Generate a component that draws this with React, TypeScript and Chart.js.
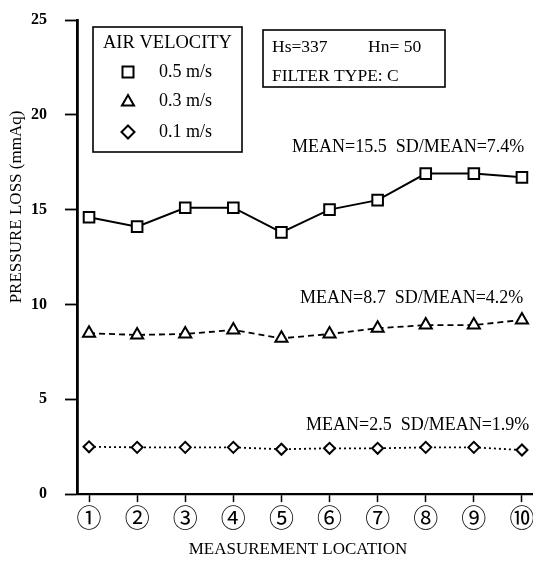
import React, { useEffect, useRef } from 'react';
import { Chart, registerables } from 'chart.js';
Chart.register(...registerables);

const locations = [1, 2, 3, 4, 5, 6, 7, 8, 9, 10];
const locationLabels = ['①', '②', '③', '④', '⑤', '⑥', '⑦', '⑧', '⑨', '⑩'];
const v05 = [14.6, 14.1, 15.1, 15.1, 13.8, 15.0, 15.5, 16.9, 16.9, 16.7];
const v03 = [8.48, 8.39, 8.44, 8.65, 8.21, 8.44, 8.74, 8.91, 8.91, 9.18];
const v01 = [2.49, 2.46, 2.46, 2.46, 2.36, 2.41, 2.41, 2.46, 2.46, 2.32];
const seriesNames = ['0.5 m/s', '0.3 m/s', '0.1 m/s'];
const meanLabels = ['MEAN=15.5  SD/MEAN=7.4%', 'MEAN=8.7  SD/MEAN=4.2%', 'MEAN=2.5  SD/MEAN=1.9%'];
const legendTitle = 'AIR VELOCITY';
const infoLine1a = 'Hs=337';
const infoLine1b = 'Hn= 50';
const infoLine2 = 'FILTER TYPE: C';
const yTitle = 'PRESSURE LOSS (mmAq)';
const xTitle = 'MEASUREMENT LOCATION';

const SERIF = '"Liberation Serif", "Times New Roman", serif';

function drawMarker(ctx: CanvasRenderingContext2D, kind: string, x: number, y: number) {
  ctx.beginPath();
  if (kind === 'rect') {
    ctx.rect(x - 5.5, y - 5.5, 11, 11);
  } else if (kind === 'triangle') {
    ctx.moveTo(x, y - 6);
    ctx.lineTo(x + 6, y + 4.5);
    ctx.lineTo(x - 6, y + 4.5);
    ctx.closePath();
  } else {
    ctx.moveTo(x, y - 6.5);
    ctx.lineTo(x + 6.5, y);
    ctx.lineTo(x, y + 6.5);
    ctx.lineTo(x - 6.5, y);
    ctx.closePath();
  }
  ctx.fillStyle = '#fff';
  ctx.fill();
  ctx.lineWidth = 2;
  ctx.strokeStyle = '#000';
  ctx.stroke();
}

const decorPlugin = {
  id: 'decor',
  afterDraw(chart: any) {
    const ctx: CanvasRenderingContext2D = chart.ctx;
    ctx.save();
    ctx.fillStyle = '#000';
    ctx.strokeStyle = '#000';
    ctx.textBaseline = 'middle';
    ctx.textAlign = 'left';
    ctx.font = `18.5px ${SERIF}`;

    // legend box
    ctx.lineWidth = 1.6;
    ctx.strokeRect(93, 27, 149, 125);
    ctx.fillText(legendTitle, 103, 43);
    const kinds = ['rect', 'triangle', 'rectRot'];
    const ys = [72, 101, 132];
    kinds.forEach((k, i) => {
      drawMarker(ctx, k, 128, ys[i]);
      ctx.fillStyle = '#000';
      ctx.font = `18px ${SERIF}`;
      ctx.fillText(seriesNames[i], 159, ys[i]);
    });

    // info box
    ctx.font = `17.5px ${SERIF}`;
    ctx.lineWidth = 1.6;
    ctx.strokeRect(263, 30, 182, 57);
    ctx.fillText(infoLine1a, 272, 47);
    ctx.fillText(infoLine1b, 368, 47);
    ctx.fillText(infoLine2, 272, 76);

    // mean annotations
    ctx.font = `18px ${SERIF}`;
    const mx = [292, 300, 306];
    const my = [147, 298, 425];
    meanLabels.forEach((t, i) => ctx.fillText(t, mx[i], my[i]));

    // axis titles
    ctx.font = `17px ${SERIF}`;
    ctx.textAlign = 'center';
    ctx.fillText(xTitle, 298, 550);
    ctx.translate(17, 207);
    ctx.rotate(-Math.PI / 2);
    ctx.fillText(yTitle, 0, 0);
    ctx.restore();
  },
};

export default function App() {
  const ref = useRef<HTMLCanvasElement>(null);
  useEffect(() => {
    const mk = (vals: number[]) => locations.map((x, i) => ({ x, y: vals[i] }));
    const chart = new Chart(ref.current!, {
      type: 'line',
      data: {
        datasets: [
          {
            label: seriesNames[0],
            data: mk(v05),
            borderColor: '#000',
            borderWidth: 2,
            pointStyle: 'rect',
            pointRadius: 7.5,
            pointBorderWidth: 2,
            pointBackgroundColor: '#fff',
            pointBorderColor: '#000',
            tension: 0,
          },
          {
            label: seriesNames[1],
            data: mk(v03),
            borderColor: '#000',
            borderWidth: 1.8,
            borderDash: [6, 4],
            pointStyle: 'triangle',
            pointRadius: 7,
            pointBorderWidth: 2,
            pointBackgroundColor: '#fff',
            pointBorderColor: '#000',
            tension: 0,
          },
          {
            label: seriesNames[2],
            data: mk(v01),
            borderColor: '#000',
            borderWidth: 1.8,
            borderDash: [2, 3],
            pointStyle: 'rectRot',
            pointRadius: 5.5,
            pointBorderWidth: 2,
            pointBackgroundColor: '#fff',
            pointBorderColor: '#000',
            tension: 0,
          },
        ],
      },
      options: {
        animation: false,
        responsive: false,
        devicePixelRatio: 1,
        layout: { autoPadding: false, padding: { top: 20, right: 0, left: 0, bottom: 0 } },
        plugins: { legend: { display: false }, tooltip: { enabled: false } },
        scales: {
          x: {
            type: 'linear',
            min: 0.75,
            max: 10.23,
            afterBuildTicks: (s: any) => {
              s.ticks = locations.map((v) => ({ value: v }));
            },
            afterFit: (s: any) => {
              s.height = 78;
              s.paddingLeft = 0;
              s.paddingRight = 0;
            },
            grid: { drawOnChartArea: false, drawTicks: true, tickLength: 8, tickColor: '#000', tickWidth: 1.5 },
            border: { display: true, color: '#000', width: 2.2 },
            ticks: {
              autoSkip: false,
              maxRotation: 0,
              padding: 0,
              color: '#000',
              font: { family: '"Noto Sans CJK JP", "DejaVu Sans", sans-serif', size: 25 },
              callback: (v: any) => locationLabels[locations.indexOf(Number(v))] ?? '',
            },
          },
          y: {
            min: 0,
            max: 25,
            afterFit: (s: any) => {
              s.width = 77;
              s.paddingTop = 0;
              s.paddingBottom = 0;
            },
            grid: { drawOnChartArea: false, drawTicks: true, tickLength: 12, tickColor: '#000', tickWidth: 1.8 },
            border: { display: true, color: '#000', width: 2.8 },
            ticks: {
              stepSize: 5,
              padding: 18,
              color: '#000',
              font: { family: SERIF, size: 16, weight: 'bold' },
            },
          },
        },
      },
      plugins: [decorPlugin],
    });
    return () => chart.destroy();
  }, []);
  return (
    <div style={{ position: 'fixed', left: 0, top: 0, width: 533, height: 572, background: '#fff' }}>
      <canvas ref={ref} width={533} height={572} />
    </div>
  );
}
